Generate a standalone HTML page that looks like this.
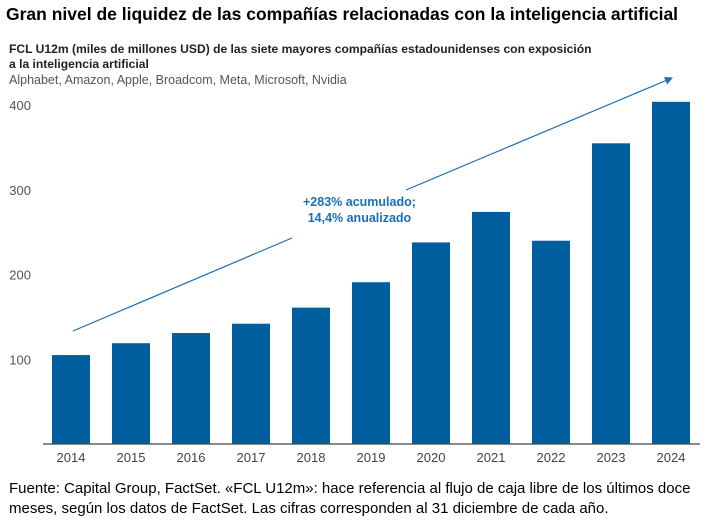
<!DOCTYPE html>
<html><head><meta charset="utf-8"><style>
body{margin:0;background:#fff;width:722px;height:532px;overflow:hidden;font-family:"Liberation Sans",sans-serif;position:relative}
.t{position:absolute;white-space:nowrap}
</style></head><body>
<div class="t" style="left:6px;top:4px;font-size:17.5px;font-weight:bold;color:#000">Gran nivel de liquidez de las compañías relacionadas con la inteligencia artificial</div>
<div class="t" style="left:9px;top:42px;font-size:12.1px;font-weight:bold;color:#222;line-height:15px">FCL U12m (miles de millones USD) de las siete mayores compañías estadounidenses con exposición<br>a la inteligencia artificial</div>
<div class="t" style="left:9px;top:73px;font-size:12.5px;color:#555">Alphabet, Amazon, Apple, Broadcom, Meta, Microsoft, Nvidia</div>
<svg id="chart" width="722" height="470" style="position:absolute;left:0;top:0">
<defs><marker id="ah" markerWidth="8" markerHeight="8" refX="7" refY="4" orient="auto" markerUnits="userSpaceOnUse"><path d="M0,0L8,4L0,8z" fill="#1a6fb5"/></marker></defs>
</svg>
<div class="t" style="left:303px;top:194px;font-size:12.5px;font-weight:bold;color:#1a6fb5;text-align:center;line-height:16px">+283% acumulado;<br>14,4% anualizado</div>
<div class="t" style="left:9px;top:479px;font-size:15px;color:#000;line-height:20px">Fuente: Capital Group, FactSet. «FCL U12m»: hace referencia al flujo de caja libre de los últimos doce<br>meses, según los datos de FactSet. Las cifras corresponden al 31 diciembre de cada año.</div>
<script>
const categories=["2014","2015","2016","2017","2018","2019","2020","2021","2022","2023","2024"];
const values=[105,119,131,142,161,191,238,274,240,355,404];
const ticks=[100,200,300,400];
const svg=document.getElementById('chart');
const NS='http://www.w3.org/2000/svg';
const y=v=>444-v*0.847;
const x=i=>71+i*60;
function mk(t,a){const e=document.createElementNS(NS,t);for(const k in a)e.setAttribute(k,a[k]);svg.appendChild(e);return e;}
ticks.forEach(t=>{const e=mk('text',{x:31,y:y(t)+5,'text-anchor':'end','font-size':13,fill:'#555','font-family':'Liberation Sans'});e.textContent=t;

});
values.forEach((v,i)=>{const r=mk('rect',{x:x(i)-19,y:y(v),width:38,height:444-y(v),fill:'#005d9e'});


const l=mk('text',{x:x(i),y:462,'text-anchor':'middle','font-size':13,fill:'#444','font-family':'Liberation Sans'});l.textContent=categories[i];

});
const ax=mk('line',{x1:43,y1:444,x2:700,y2:444,stroke:'#444','stroke-width':1.3});


const ar=mk('polyline',{points:'73,331 292,238',fill:'none',stroke:'#1a6fb5','stroke-width':1.2});


const ar2=mk('line',{x1:406,y1:190,x2:672,y2:78,stroke:'#1a6fb5','stroke-width':1.2,'marker-end':'url(#ah)'});


</script>
</body></html>
